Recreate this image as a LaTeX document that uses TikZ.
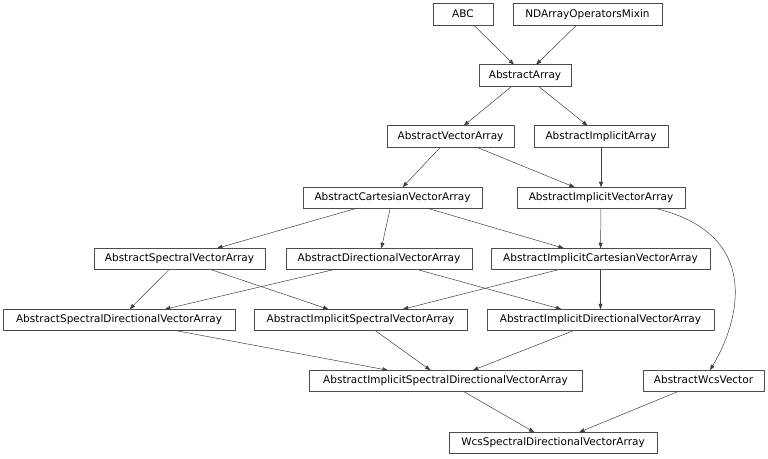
\documentclass[tikz,border=0pt]{standalone}
\usepackage{fontspec}
\setmainfont{DejaVu Sans}
\usetikzlibrary{arrows.meta}
\begin{document}
\begin{tikzpicture}[x=1pt,y=-1pt,
  box/.style={draw=black!70, line width=0.6pt, rectangle, inner sep=0pt, outer sep=0pt,
    minimum height=21.5pt, font=\fontsize{10.5pt}{12pt}\selectfont, text height=7.8pt, text depth=2.2pt},
  edge/.style={draw=black!75, line width=0.5pt, -{Triangle[length=5.5pt,width=4pt]}}]
\useasboundingbox (0,0) rectangle (768,458);
\node[box, minimum width=60pt]  (abc)   at (463,14.5)   {ABC};
\node[box, minimum width=149pt] (nd)    at (587.5,14.5) {NDArrayOperatorsMixin};
\node[box, minimum width=92pt]  (aa)    at (525,75.5)   {AbstractArray};
\node[box, minimum width=127pt] (ava)   at (450.5,136.5){AbstractVectorArray};
\node[box, minimum width=134pt] (aia)   at (601,136.5)  {AbstractImplicitArray};
\node[box, minimum width=179pt] (acva)  at (392.5,198)  {AbstractCartesianVectorArray};
\node[box, minimum width=168pt] (aiva)  at (601,198)    {AbstractImplicitVectorArray};
\node[box, minimum width=171pt] (asva)  at (179.5,259)  {AbstractSpectralVectorArray};
\node[box, minimum width=186pt] (adva)  at (379,259)    {AbstractDirectionalVectorArray};
\node[box, minimum width=219pt] (aicva) at (600.5,259)  {AbstractImplicitCartesianVectorArray};
\node[box, minimum width=232pt] (asdva) at (119,320)    {AbstractSpectralDirectionalVectorArray};
\node[box, minimum width=213pt] (aisva) at (360.5,320)  {AbstractImplicitSpectralVectorArray};
\node[box, minimum width=227pt] (aidva) at (600.5,320)  {AbstractImplicitDirectionalVectorArray};
\node[box, minimum width=273pt] (aisdva) at (445.5,381) {AbstractImplicitSpectralDirectionalVectorArray};
\node[box, minimum width=121pt] (awv)   at (703.5,381)  {AbstractWcsVector};
\node[box, minimum width=208pt] (wsdva) at (553,443)    {WcsSpectralDirectionalVectorArray};

\draw[edge] (abc) -- (aa);
\draw[edge] (nd) -- (aa);
\draw[edge] (aa) -- (ava);
\draw[edge] (aa) -- (aia);
\draw[edge] (ava) -- (acva);
\draw[edge] (ava) -- (aiva);
\draw[edge] (aia) -- (aiva);
\draw[edge] (acva) -- (asva);
\draw[edge] (acva) -- (adva);
\draw[edge] (acva) -- (aicva);
\draw[edge] (aiva) -- (aicva);
\path (aiva.south east) ++(-28,0) coordinate (cs);
\path (awv.north) ++(6.5,0) coordinate (ce);
\draw[edge] (cs) .. controls (762,235) and (740,320) .. (ce);
\draw[edge] (asva) -- (asdva);
\draw[edge] (asva) -- (aisva);
\draw[edge] (adva) -- (asdva);
\draw[edge] (adva) -- (aidva);
\draw[edge] (aicva) -- (aisva);
\draw[edge] (aicva) -- (aidva);
\draw[edge] (asdva) -- (aisdva);
\draw[edge] (aisva) -- (aisdva);
\draw[edge] (aidva) -- (aisdva);
\draw[edge] (aisdva) -- (wsdva);
\draw[edge] (awv) -- (wsdva);
\end{tikzpicture}
\end{document}
